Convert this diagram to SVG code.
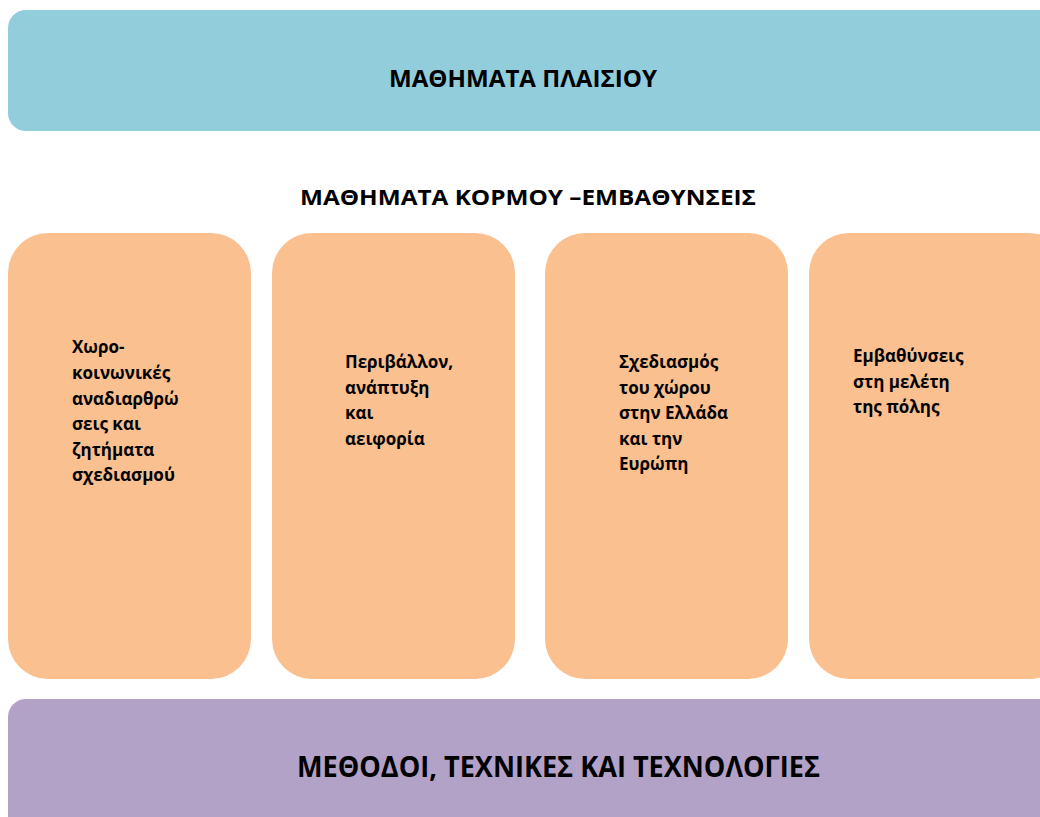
<svg xmlns="http://www.w3.org/2000/svg" width="1040" height="817" viewBox="0 0 1040 817">
<style>
.t{font-family:"Open Sans","Liberation Sans",sans-serif;font-weight:bold;fill:#000}
.title{font-size:24px}
.card{fill:#FAC090}
.ct{font-size:17px}
</style>
<rect width="1040" height="817" fill="#fff"/>
<g id="plaisiou">
<rect x="8" y="10" width="1060" height="121" rx="18" ry="18" fill="#92CDDC"/>
<text class="t title" x="389" y="87" textLength="268" lengthAdjust="spacingAndGlyphs">ΜΑΘΗΜΑΤΑ ΠΛΑΙΣΙΟΥ</text>
</g>
<g id="heading">
<text class="t" font-size="21" x="300" y="205" textLength="456" lengthAdjust="spacingAndGlyphs">ΜΑΘΗΜΑΤΑ ΚΟΡΜΟΥ –ΕΜΒΑΘΥΝΣΕΙΣ</text>
</g>
<g id="card1">
<rect class="card" x="8" y="233" width="243" height="446" rx="40" ry="40"/>
<text class="t ct" x="72"><tspan x="72" y="353">Χωρο-</tspan><tspan x="72" y="379">κοινωνικές</tspan><tspan x="72" y="404.5">αναδιαρθρώ</tspan><tspan x="72" y="430">σεις και</tspan><tspan x="72" y="455.5">ζητήματα</tspan><tspan x="72" y="481">σχεδιασμού</tspan></text>
</g>
<g id="card2">
<rect class="card" x="272" y="233" width="243" height="446" rx="40" ry="40"/>
<text class="t ct"><tspan x="345" y="368">Περιβάλλον,</tspan><tspan x="345" y="393.5">ανάπτυξη</tspan><tspan x="345" y="419">και</tspan><tspan x="345" y="444.5">αειφορία</tspan></text>
</g>
<g id="card3">
<rect class="card" x="545" y="233" width="243" height="446" rx="40" ry="40"/>
<text class="t ct"><tspan x="619" y="368">Σχεδιασμός</tspan><tspan x="619" y="393.5">του χώρου</tspan><tspan x="619" y="419">στην Ελλάδα</tspan><tspan x="619" y="444.5">και την</tspan><tspan x="619" y="470">Ευρώπη</tspan></text>
</g>
<g id="card4">
<rect class="card" x="809" y="233" width="260" height="446" rx="40" ry="40"/>
<text class="t ct"><tspan x="853" y="362">Εμβαθύνσεις</tspan><tspan x="853" y="387.5">στη μελέτη</tspan><tspan x="853" y="413">της πόλης</tspan></text>
</g>
<g id="methodoi">
<rect x="8" y="699" width="1060" height="140" rx="18" ry="18" fill="#B2A2C7"/>
<text class="t" font-size="29" x="297" y="777" textLength="523" lengthAdjust="spacingAndGlyphs">ΜΕΘΟΔΟΙ, ΤΕΧΝΙΚΕΣ ΚΑΙ ΤΕΧΝΟΛΟΓΙΕΣ</text>
</g>
<g id="connectors"></g>
</svg>
